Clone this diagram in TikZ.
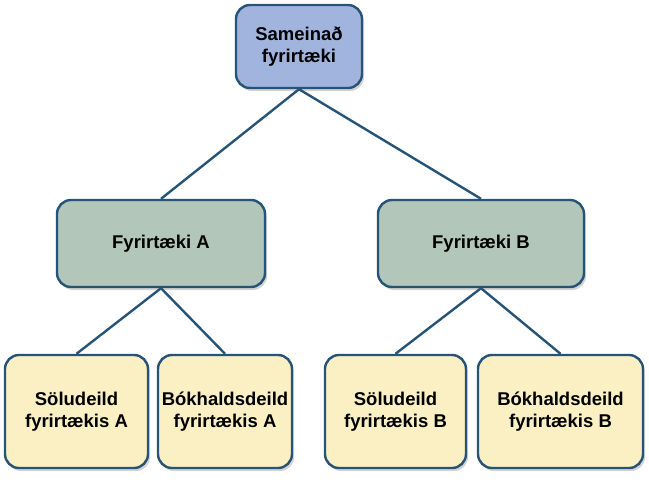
\documentclass[tikz,border=0pt]{standalone}
\usepackage{fontspec}
\setmainfont{Liberation Sans}
\usetikzlibrary{shadows}
\definecolor{edge}{RGB}{38,84,120}
\definecolor{topc}{RGB}{160,180,222}
\definecolor{midc}{RGB}{178,198,186}
\definecolor{botc}{RGB}{250,240,196}
\begin{document}
\begin{tikzpicture}[x=1pt,y=-1pt,
 box/.style={draw=edge,line width=2.4pt,rounded corners=14pt,align=center,
   font=\bfseries\fontsize{18.5}{22}\selectfont,inner sep=0pt,
   drop shadow={shadow xshift=2pt,shadow yshift=-3pt,opacity=0.35}},
 ln/.style={draw=edge,line width=2.4pt}]
\useasboundingbox (0,0) rectangle (649,499);
\node[box,fill=topc,minimum width=126pt,minimum height=83pt] (t) at (299,46.5) {Sameinað\\fyrirtæki};
\node[box,fill=midc,minimum width=208pt,minimum height=87pt] (a) at (161,243.5) {Fyrirtæki A};
\node[box,fill=midc,minimum width=206pt,minimum height=87pt] (b) at (481,243.5) {Fyrirtæki B};
\node[box,fill=botc,minimum width=143pt,minimum height=113pt] (a1) at (76.5,411.5) {Söludeild\\fyrirtækis A};
\node[box,fill=botc,minimum width=134pt,minimum height=113pt] (a2) at (225,411.5) {Bókhaldsdeild\\fyrirtækis A};
\node[box,fill=botc,minimum width=141pt,minimum height=113pt] (b1) at (395.5,411.5) {Söludeild\\fyrirtækis B};
\node[box,fill=botc,minimum width=165pt,minimum height=113pt] (b2) at (560.5,411.5) {Bókhaldsdeild\\fyrirtækis B};
\draw[ln] (t.south) -- (a.north);
\draw[ln] (t.south) -- (b.north);
\draw[ln] (a.south) -- (a1.north);
\draw[ln] (a.south) -- (a2.north);
\draw[ln] (b.south) -- (b1.north);
\draw[ln] (b.south) -- (b2.north);
\end{tikzpicture}
\end{document}
